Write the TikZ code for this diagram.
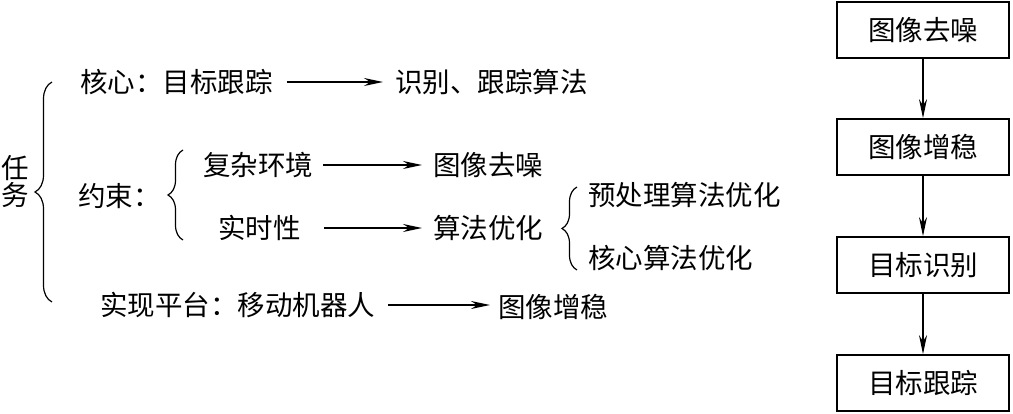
\documentclass[tikz,border=0pt]{standalone}
\usepackage{fontspec}
\newfontfamily\cjk{Noto Sans CJK SC}
\usetikzlibrary{arrows.meta,decorations.pathreplacing}
\begin{document}
\begin{tikzpicture}[x=1pt,y=-1pt,
  txt/.style={inner sep=0pt,anchor=west,font=\cjk\fontsize{27.5}{31}\selectfont},
  boxn/.style={draw,line width=1.8pt,minimum width=172pt,minimum height=56pt,inner sep=0pt,font=\cjk\fontsize{27.5}{31}\selectfont},
  arr/.style={line width=1.3pt,-{Stealth[length=19pt,width=8pt]}},
  brc/.style={line width=1.2pt,decorate,decoration={brace,amplitude=#1}}]
\useasboundingbox (0,0) rectangle (1013,414);
% left column
\node[txt,anchor=center] (ren) at (15,168) {任};
\node[txt,anchor=center] (wu) at (15,195) {务};
\draw[brc=17pt] (52,302) -- (52,82);
\node[txt] (core) at (80,82) {核心：目标跟踪};
\node[txt] (shibie) at (395,82) {识别、跟踪算法};
\node[txt] (yueshu) at (78,196) {约束：};
\draw[brc=15pt] (183,240) -- (183,150);
\node[txt] (fuza) at (203,165) {复杂环境};
\node[txt] (shishi) at (218,228) {实时性};
\node[txt] (quzao) at (433,165) {图像去噪};
\node[txt] (suanfa) at (433,228) {算法优化};
\draw[brc=15pt] (577,270) -- (577,187);
\node[txt] (yuchuli) at (588,195) {预处理算法优化};
\node[txt] (hexin) at (588,258) {核心算法优化};
\node[txt] (shixian) at (100,305) {实现平台：移动机器人};
\node[txt] (zengwen) at (498,307) {图像增稳};
\draw[arr,shorten <=14pt,shorten >=12pt] (core.east) -- (core.east -| shibie.west);
\draw[arr,shorten <=10pt,shorten >=11pt] (fuza.east) -- (fuza.east -| quzao.west);
\draw[arr,shorten <=23pt,shorten >=11pt] (shishi.east) -- (shishi.east -| suanfa.west);
\draw[arr,shorten <=13pt,shorten >=8pt] (shixian.east) -- (shixian.east -| zengwen.west);
% right column
\node[boxn] (b1) at (923,30) {图像去噪};
\node[boxn] (b2) at (923,147) {图像增稳};
\node[boxn] (b3) at (923,265) {目标识别};
\node[boxn] (b4) at (923,383) {目标跟踪};
\draw[arr] (b1) -- (b2);
\draw[arr] (b2) -- (b3);
\draw[arr] (b3) -- (b4);
\end{tikzpicture}
\end{document}
